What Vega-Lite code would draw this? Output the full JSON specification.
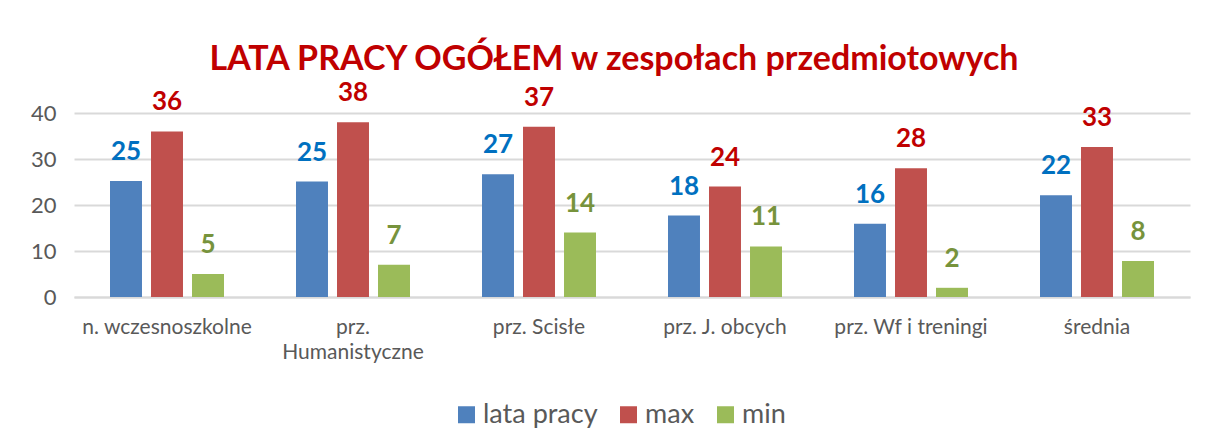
{
  "$schema": "https://vega.github.io/schema/vega-lite/v6.json",
  "width": 1116,
  "height": 184,
  "autosize": {"type": "none"},
  "padding": {"left": 74, "top": 113, "right": 19, "bottom": 149},
  "background": "white",
  "title": {
    "text": "LATA PRACY OGÓŁEM w zespołach przedmiotowych",
    "font": "Lato",
    "fontSize": 34,
    "fontWeight": "bold",
    "color": "#C00000",
    "anchor": "middle",
    "frame": "group",
    "offset": 3,
    "dx": -18
  },
  "data": {
    "values": [
      {"kategoria": "n. wczesnoszkolne", "seria": "lata pracy", "wartosc": 25.2},
      {"kategoria": "n. wczesnoszkolne", "seria": "max", "wartosc": 36},
      {"kategoria": "n. wczesnoszkolne", "seria": "min", "wartosc": 5},
      {"kategoria": "prz. Humanistyczne", "seria": "lata pracy", "wartosc": 25.1},
      {"kategoria": "prz. Humanistyczne", "seria": "max", "wartosc": 38},
      {"kategoria": "prz. Humanistyczne", "seria": "min", "wartosc": 7},
      {"kategoria": "prz. Scisłe", "seria": "lata pracy", "wartosc": 26.7},
      {"kategoria": "prz. Scisłe", "seria": "max", "wartosc": 37},
      {"kategoria": "prz. Scisłe", "seria": "min", "wartosc": 14},
      {"kategoria": "prz. J. obcych", "seria": "lata pracy", "wartosc": 17.7},
      {"kategoria": "prz. J. obcych", "seria": "max", "wartosc": 24},
      {"kategoria": "prz. J. obcych", "seria": "min", "wartosc": 11},
      {"kategoria": "prz. Wf i treningi", "seria": "lata pracy", "wartosc": 15.9},
      {"kategoria": "prz. Wf i treningi", "seria": "max", "wartosc": 28},
      {"kategoria": "prz. Wf i treningi", "seria": "min", "wartosc": 2},
      {"kategoria": "średnia", "seria": "lata pracy", "wartosc": 22.1},
      {"kategoria": "średnia", "seria": "max", "wartosc": 32.6},
      {"kategoria": "średnia", "seria": "min", "wartosc": 7.8}
    ]
  },
  "encoding": {
    "x": {
      "field": "kategoria",
      "type": "nominal",
      "sort": null,
      "scale": {"paddingInner": 0, "paddingOuter": 0},
      "axis": {
        "title": null,
        "labelAngle": 0,
        "labelFont": "Lato",
        "labelFontSize": 21,
        "labelColor": "#595959",
        "labelPadding": 19,
        "labelBaseline": "top",
        "labelLineHeight": 25,
        "labelOverlap": false,
        "ticks": false,
        "domainColor": "#D9D9D9",
        "domainWidth": 2,
        "labelExpr": "datum.label == 'prz. Humanistyczne' ? ['prz.', 'Humanistyczne'] : datum.label"
      }
    },
    "xOffset": {
      "field": "seria",
      "type": "nominal",
      "scale": {"paddingInner": 0.22, "paddingOuter": 0.878}
    },
    "y": {
      "field": "wartosc",
      "type": "quantitative",
      "scale": {"domain": [0, 40]},
      "axis": {
        "title": null,
        "values": [0, 10, 20, 30, 40],
        "labelOverlap": false,
        "labelFont": "Lato",
        "labelFontSize": 22,
        "labelColor": "#595959",
        "labelPadding": 18,
        "ticks": false,
        "domain": false,
        "gridColor": "#D9D9D9",
        "gridWidth": 2
      }
    }
  },
  "layer": [
    {
      "mark": {"type": "bar"},
      "encoding": {
        "color": {
          "field": "seria",
          "type": "nominal",
          "scale": {"domain": ["lata pracy", "max", "min"], "range": ["#4F81BD", "#C0504D", "#9BBB59"]},
          "legend": {
            "title": null,
            "orient": "none",
            "legendX": 379,
            "legendY": 288,
            "padding": 0,
            "direction": "horizontal",
            "symbolType": "square",
            "symbolSize": 289,
            "symbolStrokeWidth": 0,
            "labelFont": "Lato",
            "labelFontSize": 27,
            "labelColor": "#595959",
            "labelOffset": 3,
            "columnPadding": 17
          }
        }
      }
    },
    {
      "mark": {"type": "text", "baseline": "alphabetic", "dy": -21, "font": "Lato", "fontSize": 26, "fontWeight": "bold"},
      "encoding": {
        "text": {"field": "wartosc", "type": "quantitative", "format": ".0f"},
        "color": {
          "field": "seria",
          "type": "nominal",
          "scale": {"domain": ["lata pracy", "max", "min"], "range": ["#0070C0", "#C00000", "#77933C"]},
          "legend": null
        }
      }
    }
  ],
  "resolve": {"scale": {"color": "independent"}},
  "config": {"view": {"stroke": null}}
}
